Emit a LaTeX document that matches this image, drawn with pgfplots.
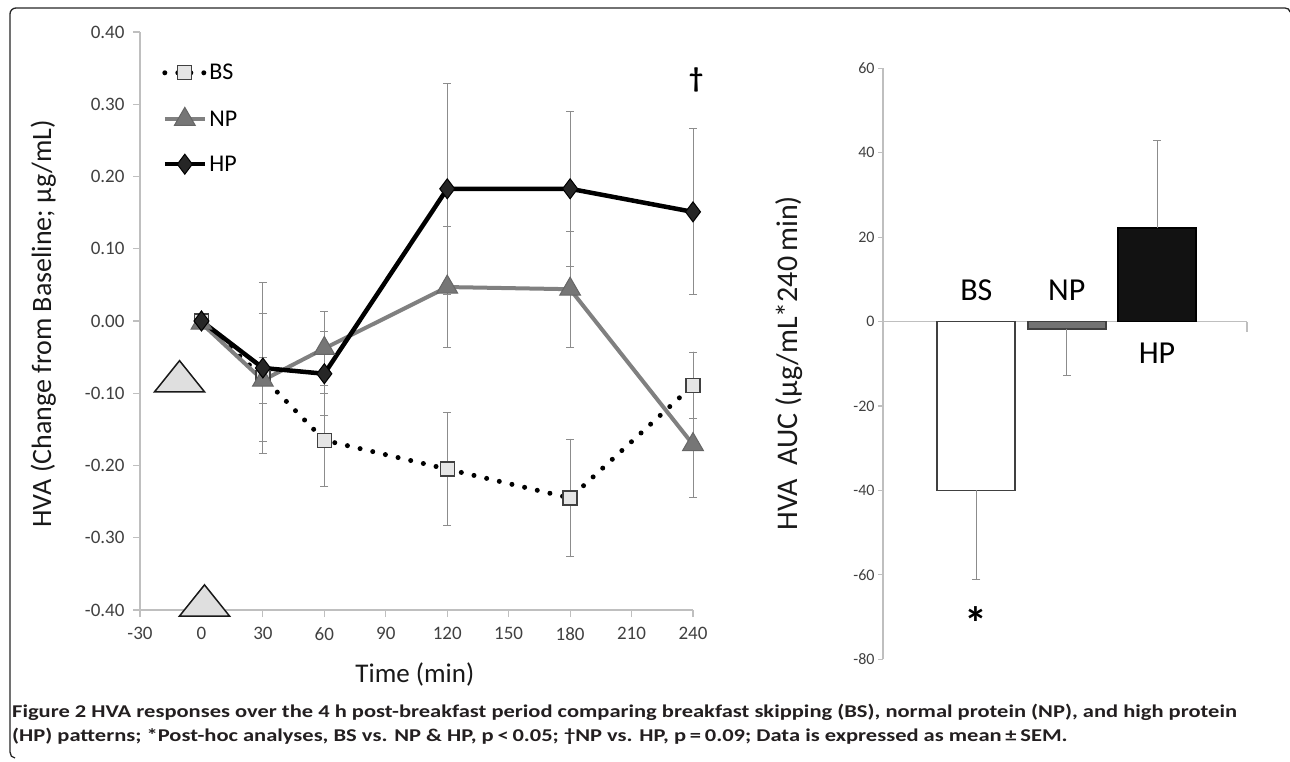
\documentclass[border=0pt]{standalone}
\usepackage{pgfplots}
\pgfplotsset{compat=1.18}
\usepackage{fontspec}
\setmainfont{Carlito}
\definecolor{axisGray}{HTML}{BFBFBF}
\definecolor{tickText}{HTML}{404040}
\definecolor{errGray}{HTML}{8C8C8C}
\definecolor{npLine}{HTML}{808080}
\definecolor{npFill}{HTML}{767676}
\definecolor{capText}{HTML}{231F20}
\newcommand{\fs}[1]{\fontsize{#1}{#1}\selectfont}

\pgfplotsset{
  hva axis/.style={
    scale only axis,
    anchor=south west,
    axis line style={axisGray, line width=1.2pt},
    tick style={axisGray, line width=1.2pt},
    tick align=outside,
    /pgf/number format/assume math mode=true,
    clip=false,
  },
  no arrows/.style={
    every inner x axis line/.append style={-},
    every outer x axis line/.append style={-},
    every inner y axis line/.append style={-},
    every outer y axis line/.append style={-},
  },
}

\begin{document}
\begin{tikzpicture}
\path[use as bounding box] (0pt,0pt) rectangle (1290pt,761pt);
% rounded frame round the figure
\draw[line width=1.3pt, black!85]
  (15pt,3pt) to[out=180,in=-90] (10pt,9pt) -- (10pt,747pt)
  to[out=90,in=180] (16pt,753pt) -- (1285pt,753pt) to[out=0,in=90] (1290pt,749pt);

% ---------- left panel: HVA change over time ----------
\begin{axis}[
  hva axis,
  at={(140pt,151pt)},
  width=553pt, height=578pt,
  xmin=-30, xmax=240, ymin=-0.4, ymax=0.4,
  axis x line*=bottom, axis y line*=left, no arrows,
  major tick length=7pt,
  xtick={-30,0,30,60,90,120,150,180,210,240},
  ytick={-0.4,-0.3,-0.2,-0.1,0,0.1,0.2,0.3,0.4},
  tick label style={font=\fs{19}, tickText},
  yticklabel style={xshift=-5pt, /pgf/number format/.cd, fixed, fixed zerofill, precision=2},
  xticklabel style={yshift=-7pt},
  xlabel={Time (min)},
  ylabel={HVA (Change from Baseline; µg/mL)},
  xlabel style={font=\fs{27}, black!90, at={(axis description cs:0.497,-0.112)}, anchor=center},
  ylabel style={font=\fs{28}, black!90, at={(axis description cs:-0.175,0.495)}, anchor=center, rotate=0},
  legend style={at={(axis description cs:0.04,0.948)}, anchor=north west,
    draw=none, fill=none, font=\fs{24}, row sep=24pt, inner sep=0pt},
  legend cell align=left,
  legend image code/.code={\draw[mark repeat=2, mark phase=2]
    plot coordinates {(0pt,0pt) (20pt,0pt) (40pt,0pt)};},
]
  % meal-time triangles
  \addplot[only marks, forget plot, mark=triangle*, mark size=28.9pt,
    mark options={yscale=0.72, fill=gray!25, draw=black!90, line width=1.5pt}]
    coordinates {(-10.7,-0.0837) (1.5,-0.394)};

  \addplot[black, line width=5pt, dash pattern=on 0pt off 13pt, line cap=round,
    mark=square*, mark size=7pt,
    mark options={solid, line width=1.3pt, fill=gray!20, draw=black!75},
    error bars/.cd, y dir=both, y explicit,
    error bar style={errGray, line width=1pt, solid},
    error mark options={rotate=90, mark size=4pt, errGray, line width=1pt}]
    coordinates {
      (0,0) +- (0,0)
      (30,-0.078) +- (0,0.089)
      (60,-0.165) +- (0,0.064)
      (120,-0.205) +- (0,0.078)
      (180,-0.245) +- (0,0.081)
      (240,-0.089) +- (0,0.046)
    };
  \addlegendentry{BS}

  \addplot[npLine, line width=4pt, mark=triangle*, mark size=12pt,
    mark options={line width=1pt, fill=npFill, draw=black!60},
    error bars/.cd, y dir=both, y explicit,
    error bar style={errGray, line width=1pt},
    error mark options={rotate=90, mark size=4pt, errGray, line width=1pt}]
    coordinates {
      (0,-0.003) +- (0,0)
      (30,-0.082) +- (0,0.032)
      (60,-0.038) +- (0,0.051)
      (120,0.047) +- (0,0.084)
      (180,0.044) +- (0,0.080)
      (240,-0.171) +- (0,0.073)
    };
  \addlegendentry{NP}

  \addplot[black, line width=4.5pt, mark=diamond*, mark size=10pt,
    mark options={line width=1pt, fill=black!85, draw=black},
    error bars/.cd, y dir=both, y explicit,
    error bar style={errGray, line width=1pt},
    error mark options={rotate=90, mark size=4pt, errGray, line width=1pt}]
    coordinates {
      (0,0) +- (0,0)
      (30,-0.065) +- (0,0.118)
      (60,-0.073) +- (0,0.058)
      (120,0.183) +- (0,0.146)
      (180,0.183) +- (0,0.107)
      (240,0.151) +- (0,0.115)
    };
  \addlegendentry{HP}

  \node[font=\fs{28}\bfseries] at (axis cs:241.5,0.334) {†};
\end{axis}

% ---------- right panel: HVA AUC ----------
\begin{axis}[
  hva axis,
  at={(883pt,101.7pt)},
  width=364pt, height=591pt,
  xmin=-1.033, xmax=2.996, ymin=-80, ymax=60,
  axis x line=middle, axis y line*=left, no arrows,
  major tick length=5pt,
  xtick=\empty,
  ytick={-80,-60,-40,-20,0,20,40,60},
  tick label style={font=\fs{16}, tickText},
  ylabel={HVA\hspace{0.45em}AUC (µg/mL*240\,min)},
  ylabel style={font=\fs{30}, black!90, at={(axis description cs:-0.258,0.501)}, anchor=center, rotate=0},
]
  \addplot[ybar, bar width=78pt, bar shift=0pt, fill=white, draw=black!75, line width=1.8pt,
    error bars/.cd, y dir=minus, y explicit,
    error bar style={errGray, line width=1pt},
    error mark options={rotate=90, mark size=4pt, errGray, line width=1pt}]
    coordinates {(0,-40.0) -= (0,21.0)};
  \addplot[ybar, bar width=78pt, bar shift=0pt, fill=black!55, draw=black!75, line width=1.8pt,
    error bars/.cd, y dir=minus, y explicit,
    error bar style={errGray, line width=1pt},
    error mark options={rotate=90, mark size=4pt, errGray, line width=1pt}]
    coordinates {(1,-1.7) -= (0,11.0)};
  \addplot[ybar, bar width=78pt, bar shift=0pt, fill=black!93, draw=black, line width=1.8pt,
    error bars/.cd, y dir=plus, y explicit,
    error bar style={errGray, line width=1pt},
    error mark options={rotate=90, mark size=4pt, errGray, line width=1pt}]
    coordinates {(2,22.2) += (0,20.7)};
  \draw[axisGray, line width=1.2pt] (axis cs:2.996,0) -- ++(0pt,-10pt);
  \node[font=\fs{32}] at (axis cs:0,7.5) {BS};
  \node[font=\fs{32}] at (axis cs:1,7.5) {NP};
  \node[font=\fs{32}] at (axis cs:2,-7.5) {HP};
  \node[font=\fs{46}\bfseries] at (axis cs:0,-71.5) {*};
\end{axis}

% ---------- caption ----------
\node[anchor=base west, font=\fs{18}\bfseries, capText, inner sep=0pt] at (12pt,44pt)
  {\scalebox{1.25}[1]{Figure 2 HVA responses over the 4 h post-breakfast period comparing breakfast skipping (BS), normal protein (NP), and high protein}};
\node[anchor=base west, font=\fs{18}\bfseries, capText, inner sep=0pt] at (12pt,20pt)
  {\scalebox{1.25}[1]{(HP) patterns; *Post-hoc analyses, BS vs. NP \& HP, p\,<\,0.05; †NP vs. HP, p\,=\,0.09; Data is expressed as mean\,±\,SEM.}};
\end{tikzpicture}
\end{document}
